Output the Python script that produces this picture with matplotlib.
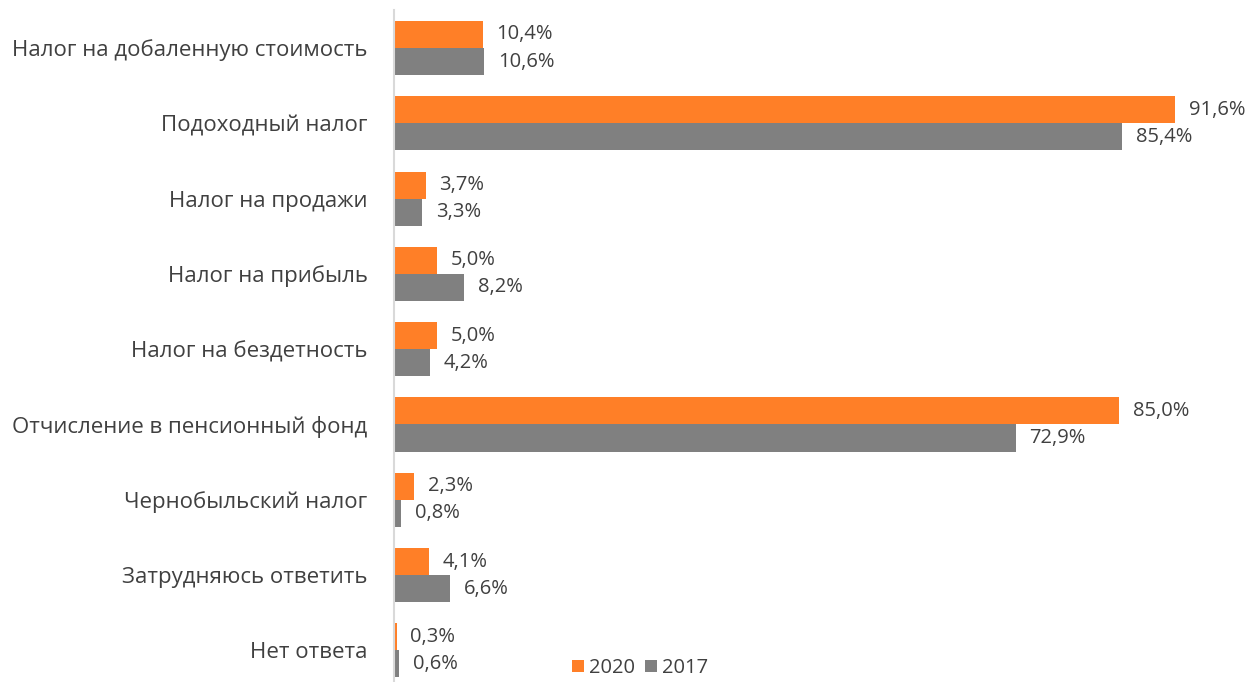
import numpy as np
import matplotlib.pyplot as plt

plt.rcParams['font.family'] = ['Open Sans', 'DejaVu Sans']

categories = [
    "Налог на добаленную стоимость",
    "Подоходный налог",
    "Налог на продажи",
    "Налог на прибыль",
    "Налог на бездетность",
    "Отчисление в пенсионный фонд",
    "Чернобыльский налог",
    "Затрудняюсь ответить",
    "Нет ответа",
]
values_2020 = [10.4, 91.6, 3.7, 5.0, 5.0, 85.0, 2.3, 4.1, 0.3]
values_2017 = [10.6, 85.4, 3.3, 8.2, 4.2, 72.9, 0.8, 6.6, 0.6]
series_names = ["2020", "2017"]

orange = "#FF7F27"
grey = "#808080"
text_color = "#404040"

fig = plt.figure(figsize=(12.51, 6.82), dpi=100)
ax = fig.add_axes([394 / 1251, 0.0, 1 - 394 / 1251, 1 - 10 / 682])

y = np.arange(len(categories))
h = 0.36
b1 = ax.barh(y - h / 2, values_2020, height=h, color=orange, label=series_names[0])
b2 = ax.barh(y + h / 2, values_2017, height=h, color=grey, label=series_names[1])

def fmt(v):
    return f"{v:.1f}%".replace(".", ",")

for bars, vals in ((b1, values_2020), (b2, values_2017)):
    ax.bar_label(bars, labels=[fmt(v) for v in vals], padding=10,
                 fontsize=14.5, color=text_color)

ax.set_xlim(0, 100.5)
ax.set_ylim(8.42, -0.505)
ax.set_yticks(y)
ax.set_yticklabels(categories, fontsize=16, color=text_color)
ax.tick_params(axis="y", length=0, pad=19)
ax.set_xticks([])
for side in ("top", "right", "bottom"):
    ax.spines[side].set_visible(False)
ax.spines["left"].set_color("#d9d9d9")
ax.spines["left"].set_linewidth(1.5)

fig.legend(loc="center", bbox_to_anchor=(640 / 1251, 1 - 668 / 682), ncol=2,
           frameon=False, fontsize=14.5, handlelength=0.6, handleheight=0.6,
           handletextpad=0.25, columnspacing=0.5, labelcolor=text_color)

fig.savefig("out.png", dpi=100)
